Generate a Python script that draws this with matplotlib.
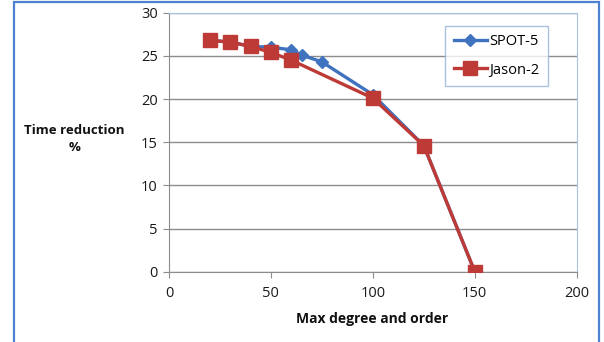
import matplotlib.pyplot as plt
from matplotlib.patches import Rectangle

spot_x = [20, 30, 40, 50, 60, 65, 75, 100, 125, 150]
spot_y = [26.8, 26.6, 26.1, 26.0, 25.7, 25.1, 24.3, 20.5, 14.6, 0.0]

jason_x = [20, 30, 40, 50, 60, 100, 125, 150]
jason_y = [26.8, 26.6, 26.1, 25.4, 24.5, 20.1, 14.6, 0.0]

x_ticks = [0, 50, 100, 150, 200]
y_ticks = [0, 5, 10, 15, 20, 25, 30]

plt.rcParams['font.family'] = ['Open Sans', 'DejaVu Sans']

fig = plt.figure(figsize=(6.04, 3.42), dpi=100)
ax = fig.add_axes([0.2798, 0.2056, 0.675, 0.7573])

blue = '#3F73BF'
red = '#BE3A36'

ax.plot(spot_x, spot_y, color=blue, lw=2.4, marker='D', ms=6.5,
        mfc=blue, mec=blue, label='SPOT-5', zorder=3)
ax.plot(jason_x, jason_y, color=red, lw=2.4, marker='s', ms=9.5,
        mfc=red, mec=red, label='Jason-2', zorder=4)

ax.set_xlim(0, 200)
ax.set_ylim(0, 30)
ax.set_xticks(x_ticks)
ax.set_yticks(y_ticks)
ax.yaxis.grid(True, color='#8c8c8c', lw=1)
ax.set_axisbelow(True)

ax.tick_params(axis='both', colors='#8c8c8c', labelcolor='#1a1a1a',
               labelsize=10.5, length=4, direction='out')
ax.tick_params(axis='x', pad=6)
ax.tick_params(axis='y', pad=4)

for side in ['left', 'bottom']:
    ax.spines[side].set_color('#8c8c8c')
for side in ['top', 'right']:
    ax.spines[side].set_color('#a9c1e3')

leg = ax.legend(loc='upper right', bbox_to_anchor=(0.93, 0.95), fontsize=10.5,
                frameon=True, fancybox=False, handlelength=2.3,
                handletextpad=0.15, labelspacing=0.9, borderpad=0.6,
                borderaxespad=0)
leg.get_frame().set_edgecolor('#95B3D7')
leg.get_frame().set_linewidth(1)

fig.text(0.123, 0.595, 'Time reduction\n%', ha='center', va='center',
         fontsize=9.5, fontweight='bold', multialignment='center',
         linespacing=1.4, color='#111111')
fig.text(0.616, 0.067, 'Max degree and order', ha='center', va='center',
         fontsize=10, fontweight='bold', color='#111111')

fig.patches.append(Rectangle((0.0235, -0.1), 0.968, 1.094, transform=fig.transFigure,
                             fill=False, edgecolor='#4F81D1', lw=1.6))

fig.savefig('out.png', dpi=100)
